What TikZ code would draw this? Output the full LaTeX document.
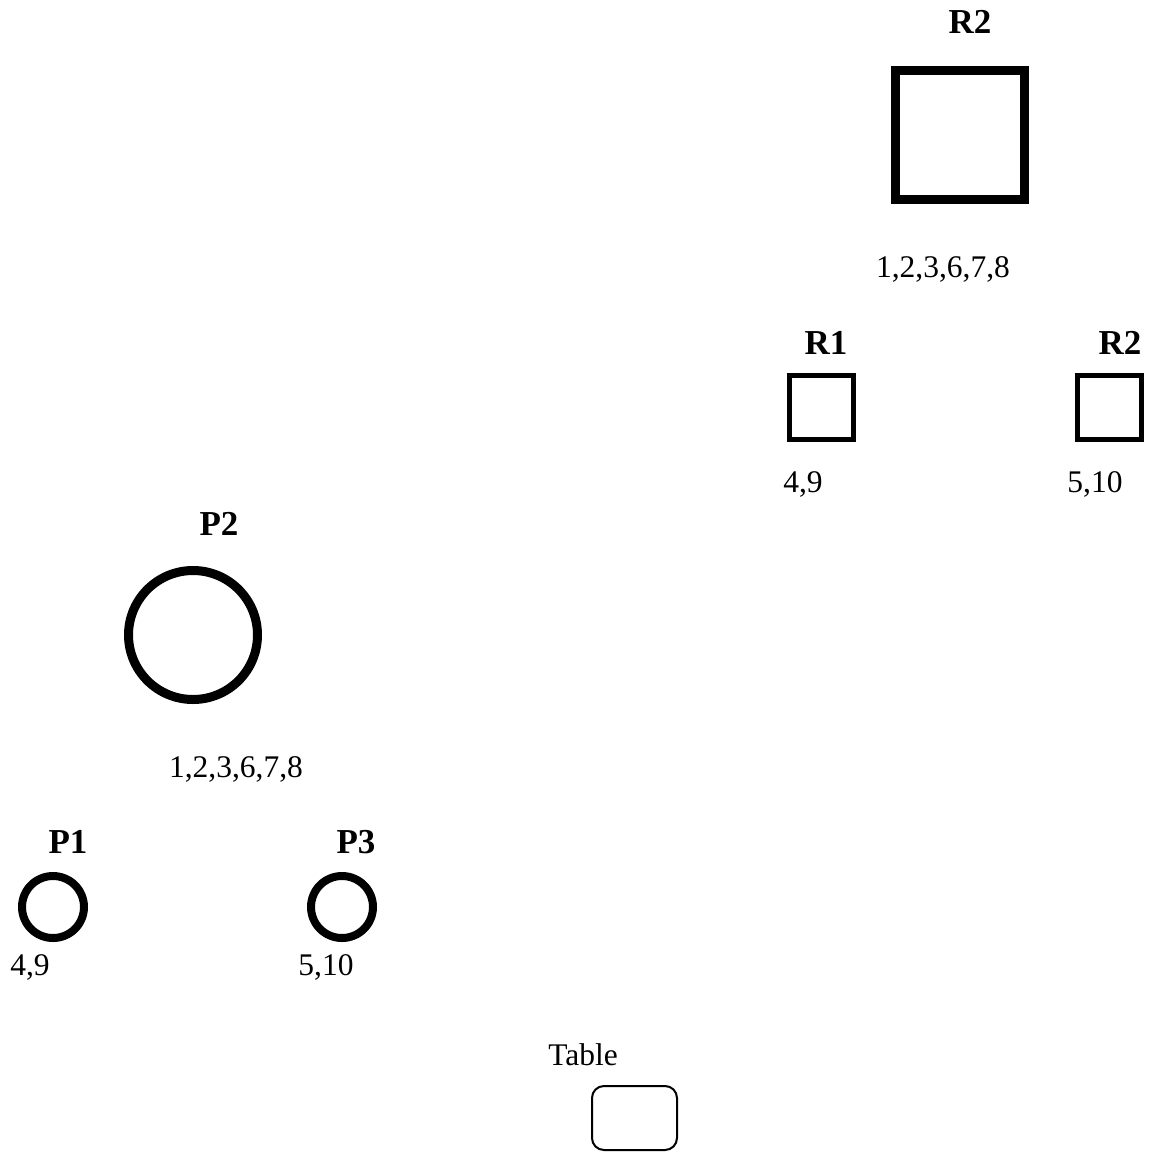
\documentclass[tikz,border=0pt]{standalone}
\usepackage{fontspec}
\setmainfont{Liberation Serif}
\begin{document}
\begin{tikzpicture}[x=1pt,y=-1pt,
  lbl/.style={font=\fontsize{35}{40}\selectfont\bfseries, inner sep=0pt},
  num/.style={font=\fontsize{31.5}{36}\selectfont, inner sep=0pt},
  bigsq/.style={draw, line width=9pt, minimum size=129pt, inner sep=0pt},
  smsq/.style={draw, line width=5pt, minimum size=64pt, inner sep=0pt},
  bigcirc/.style={draw, circle, line width=9pt, minimum size=129pt, inner sep=0pt},
  smcirc/.style={draw, circle, line width=8pt, minimum size=62pt, inner sep=0pt},
  tablebox/.style={draw, line width=2pt, rounded corners=12pt, minimum width=85pt, minimum height=64pt, inner sep=0pt}]
\useasboundingbox (0,0) rectangle (1152,1152);
% R side
\node[lbl] (tR2) at (970,22) {R2};
\node[bigsq] (R2big) at (960,135) {};
\node[num] (nR2big) at (943,269) {1,2,3,6,7,8};
\node[lbl] (tR1) at (826,343) {R1};
\node[smsq] (R1) at (821,407) {};
\node[num] (nR1) at (803,484) {4,9};
\node[lbl] (tR2s) at (1120,343) {R2};
\node[smsq] (R2s) at (1109,407) {};
\node[num] (nR2s) at (1095,484) {5,10};
% P side
\node[lbl] (tP2) at (219,524) {P2};
\node[bigcirc] (P2) at (193,635) {};
\node[num] (nP2) at (236,769) {1,2,3,6,7,8};
\node[lbl] (tP1) at (68,842) {P1};
\node[smcirc] (P1) at (53,907) {};
\node[num] (nP1) at (30,967) {4,9};
\node[lbl] (tP3) at (356,842) {P3};
\node[smcirc] (P3) at (342,907) {};
\node[num] (nP3) at (326,967) {5,10};
% Table
\node[num] (tTable) at (583,1055) {Table};
\node[tablebox] (Table) at (634.5,1118) {};
\end{tikzpicture}
\end{document}
